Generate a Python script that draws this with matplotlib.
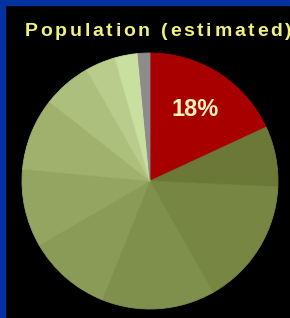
import numpy as np
import matplotlib
matplotlib.use("Agg")
import matplotlib.pyplot as plt
from matplotlib.patches import Rectangle

# share of population per region, clockwise from 12 o'clock
shares = [18.0, 7.6, 16.0, 14.2, 10.5, 9.8, 9.1, 6.1, 3.8, 2.9, 1.5]
colors = ["#a80000", "#6b7838", "#778643", "#7f8f4c", "#8a9a57",
          "#94a562", "#a0b06d", "#adbf7c", "#b9cc8c", "#c9dfa0", "#8c8c8c"]
title = "Population (estimated)"
label = "18%"

W, H = 290, 318
fig = plt.figure(figsize=(W / 100, H / 100), dpi=100)
fig.patch.set_facecolor("black")

# blue frame on the left and top
fig.patches.append(Rectangle((0, 0), 5 / W, 1, transform=fig.transFigure,
                             color="#0033a0", zorder=0))
fig.patches.append(Rectangle((0, 1 - 5 / H), 1, 5 / H, transform=fig.transFigure,
                             color="#0033a0", zorder=0))

cx, cy, r = 150, 181, 128
ax = fig.add_axes([(cx - r) / W, (H - cy - r) / H, 2 * r / W, 2 * r / H])
ax.set_facecolor("black")
wedges, _ = ax.pie(shares, colors=colors, startangle=90, counterclock=False,
                   radius=1, wedgeprops=dict(linewidth=0.6))
for w in wedges:
    w.set_edgecolor(w.get_facecolor())
ax.set_xlim(-1, 1)
ax.set_ylim(-1, 1)
ax.set_aspect("equal")
ax.axis("off")

w0 = wedges[0]
mid = np.deg2rad((w0.theta1 + w0.theta2) / 2)
ax.text(0.66 * np.cos(mid), 0.66 * np.sin(mid), label, ha="center", va="center",
        color="#fff0c0", fontsize=17, fontweight="bold", family="Liberation Sans")

# title with wide letter spacing, one glyph at a time
renderer = fig.canvas.get_renderer()
x = 25
for ch in title:
    t = fig.text(x / W, 1 - 31 / H, ch, ha="left", va="center", color="#f0f080",
                 fontsize=14, fontweight="bold", family="Liberation Sans")
    x += t.get_window_extent(renderer).width + 2.7

fig.savefig("out.png", dpi=100, facecolor="black")
